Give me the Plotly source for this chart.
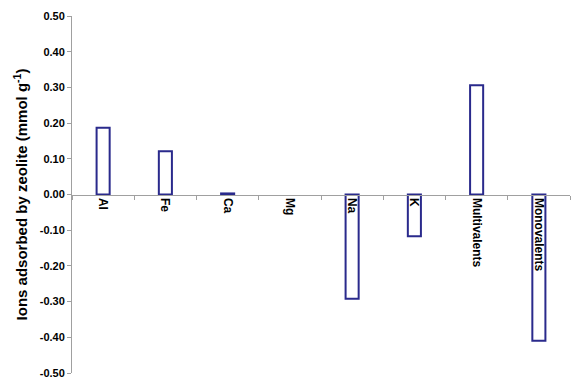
import plotly.graph_objects as go

categories = ["Al", "Fe", "Ca", "Mg", "Na", "K", "Multivalents", "Monovalents"]
values = [0.187, 0.121, 0.003, 0.0, -0.292, -0.117, 0.306, -0.410]
y_ticks = [0.5, 0.4, 0.3, 0.2, 0.1, 0.0, -0.1, -0.2, -0.3, -0.4, -0.5]
y_tick_labels = ["%.2f" % v for v in y_ticks]

# no outline drawn for a bar with exactly zero height (as in the reference)
outline_widths = [0 if v == 0 else 2 for v in values]

fig = go.Figure(
    go.Bar(
        x=categories,
        y=values,
        width=0.21,
        marker=dict(color="white", line=dict(color="#2a2a8c", width=outline_widths)),
    )
)

font_family = "Liberation Sans, Arial, sans-serif"

fig.update_layout(
    width=580,
    height=392,
    margin=dict(l=72, r=10, t=14, b=19),
    paper_bgcolor="white",
    plot_bgcolor="white",
    showlegend=False,
    font=dict(family=font_family, color="black"),
    xaxis=dict(
        anchor="free",
        position=0.5,
        showline=True,
        linecolor="#a0a0a0",
        linewidth=1,
        ticks="outside",
        tickson="boundaries",
        ticklen=4,
        tickcolor="#a0a0a0",
        tickangle=90,
        tickfont=dict(size=12, family=font_family, color="black", weight="bold"),
        showgrid=False,
        zeroline=False,
        range=[-0.5, 7.5],
    ),
    yaxis=dict(
        range=[-0.5, 0.5],
        tickvals=y_ticks,
        ticktext=y_tick_labels,
        showline=True,
        linecolor="#a0a0a0",
        linewidth=1,
        ticks="outside",
        ticklen=4,
        tickcolor="#a0a0a0",
        tickfont=dict(size=11, family=font_family, color="black", weight="bold"),
        showgrid=False,
        zeroline=False,
        title=dict(
            text="Ions adsorbed by zeolite (mmol g<sup>-1</sup>)",
            font=dict(size=15, family=font_family, color="black", weight="bold"),
            standoff=8,
        ),
    ),
)

fig.write_html("out.html")
